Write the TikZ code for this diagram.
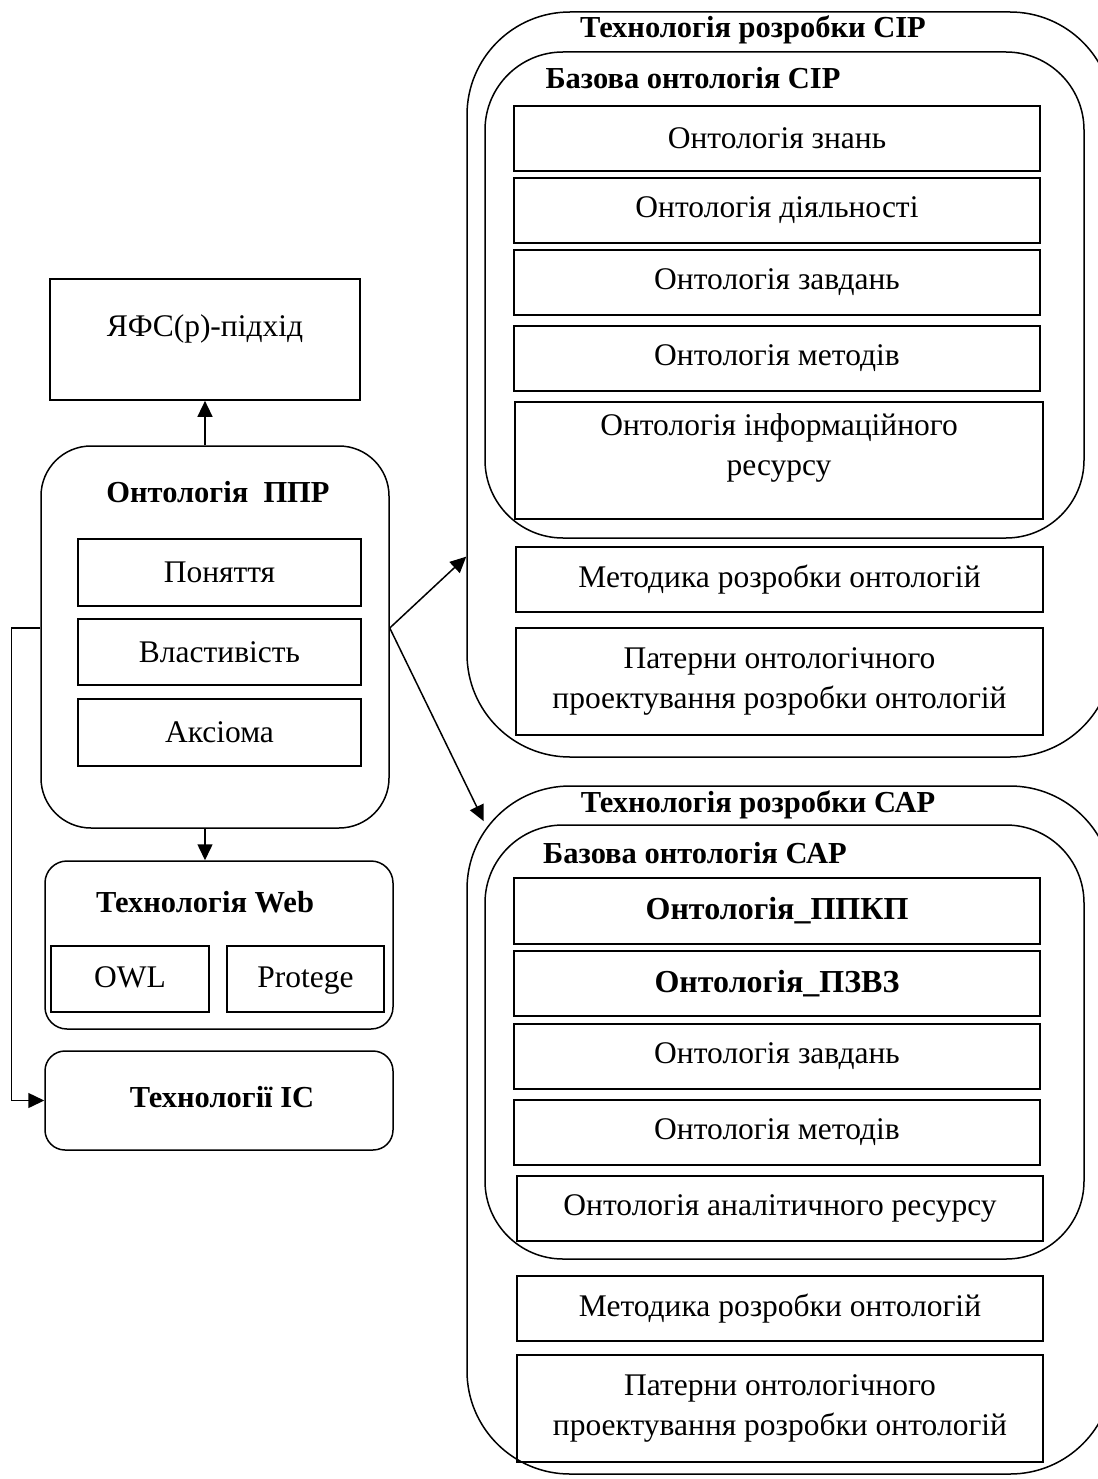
\documentclass[tikz,border=0pt]{standalone}
\usepackage{fontspec}
\setmainfont{Liberation Serif}
\usepackage{tikz}
\usetikzlibrary{positioning, arrows.meta}

\begin{document}
\begin{tikzpicture}[x=1pt, y=-1pt,
    caja/.style={draw, line width=1.7pt, inner sep=0pt, align=center, font=\fontsize{31.5}{40}\selectfont},
    marco/.style={draw, line width=1.5pt, rounded corners=#1, inner sep=0pt},
    titulo/.style={font=\bfseries\fontsize{30.5}{36}\selectfont, inner sep=0pt},
    flecha/.style={-{Triangle[length=16pt,width=15pt]}, line width=1.5pt}]
    \useasboundingbox (0,0) rectangle (1097,1479);

    % Columna izquierda
    \node[caja, minimum width=310pt, minimum height=121pt, text depth=28pt] (yafs) at (205,339.5) {ЯФС(р)-підхід};
    \node[marco=50pt, minimum width=348pt, minimum height=382pt] (ppr) at (215,637) {};
    \node[titulo] (pprt) at (218,492) {Онтологія~~ППР};
    \node[caja, minimum width=283pt, minimum height=67pt] (pon) at (219.5,572.5) {Поняття};
    \node[caja, minimum width=283pt, minimum height=66pt] (vla) at (219.5,652) {Властивість};
    \node[caja, minimum width=283pt, minimum height=67pt] (aks) at (219.5,732.5) {Аксіома};

    \node[marco=22pt, minimum width=348pt, minimum height=168pt] (web) at (219,945) {};
    \node[titulo] (webt) at (205,902) {Технологія Web};
    \node[caja, minimum width=158pt, minimum height=66pt, text height=21pt, text depth=5pt] (owl) at (130,979) {OWL};
    \node[caja, minimum width=157pt, minimum height=66pt, text height=21pt, text depth=5pt] (prot) at (305.5,979) {Protege};

    \node[marco=20pt, minimum width=348pt, minimum height=99pt] (ic) at (219,1100.5) {};
    \node[titulo] (ict) at (222,1097) {Технології ІС};

    % Columna derecha: СІР
    \node[marco=103pt, minimum width=646pt, minimum height=745pt] (cip) at (790,384.5) {};
    \node[titulo] (cipt) at (753,30) {Технологія розробки СІР};
    \node[marco=78pt, minimum width=599pt, minimum height=486pt] (cipb) at (784.5,295) {};
    \node[titulo] (cipbt) at (693,78) {Базова онтологія СІР};
    \foreach \txt/\yy [count=\i] in {Онтологія знань/138.5, Онтологія діяльності/210.5,
        Онтологія завдань/282.5, Онтологія методів/358.5}
        \node[caja, minimum width=526pt, minimum height=65pt] (cipk\i) at (777,\yy) {\txt};
    \node[caja, minimum width=528pt, minimum height=117pt] (cipk5) at (779,460.5) {Онтологія інформаційного\\ресурсу\\[-8pt]};
    \node[caja, minimum width=527pt, minimum height=65pt] (cipm) at (779.5,579.5) {Методика розробки онтологій};
    \node[caja, minimum width=527pt, minimum height=107pt] (cipp) at (779.5,681.5) {Патерни онтологічного\\проектування розробки онтологій};

    % Columna derecha: САР
    \node[marco=103pt, minimum width=646pt, minimum height=688pt] (cap) at (790,1130) {};
    \node[titulo] (capt) at (758,805) {Технологія розробки САР};
    \node[marco=78pt, minimum width=599pt, minimum height=434pt] (capb) at (784.5,1042) {};
    \node[titulo] (capbt) at (695,853) {Базова онтологія САР};
    \node[caja, minimum width=526pt, minimum height=66pt, font=\bfseries\fontsize{32}{40}\selectfont] (capk1) at (777,911) {Онтологія\_ППКП};
    \node[caja, minimum width=526pt, minimum height=65pt, font=\bfseries\fontsize{32}{40}\selectfont] (capk2) at (777,983.5) {Онтологія\_ПЗВЗ};
    \node[caja, minimum width=526pt, minimum height=65pt] (capk3) at (777,1056.5) {Онтологія завдань};
    \node[caja, minimum width=526pt, minimum height=65pt] (capk4) at (777,1132.5) {Онтологія методів};
    \node[caja, minimum width=526pt, minimum height=65pt] (capk5) at (780,1208.5) {Онтологія аналітичного ресурсу};
    \node[caja, minimum width=526pt, minimum height=65pt] (capm) at (780,1308.5) {Методика розробки онтологій};
    \node[caja, minimum width=526pt, minimum height=107pt] (capp) at (780,1408.5) {Патерни онтологічного\\проектування розробки онтологій};

    % Flechas
    \draw[flecha] (ppr.north -| yafs.south) -- (yafs.south);
    \draw[flecha] (yafs.south |- ppr.south) -- (yafs.south |- web.north);
    \draw[flecha] ([yshift=9pt]ppr.west) -- ++(-29,0) |- (ic.west);
    \draw[flecha] ([yshift=9pt]ppr.east) -- (cip.208.8);
    \draw[flecha, shorten >=-40pt] ([yshift=9pt]ppr.east) -- (cap.north west);
\end{tikzpicture}
\end{document}
